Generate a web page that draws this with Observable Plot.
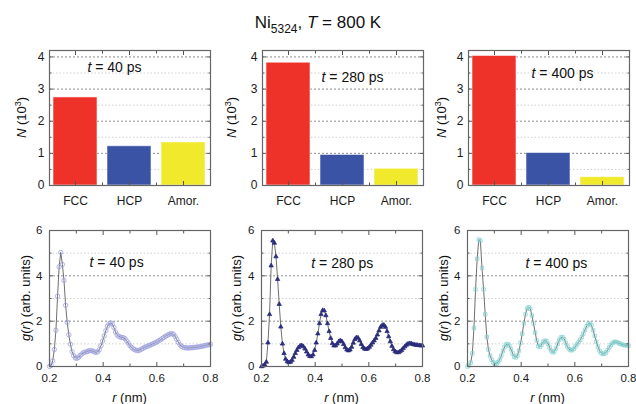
<!DOCTYPE html>
<html><head><meta charset="utf-8">
<script src="https://cdn.jsdelivr.net/npm/d3@7"></script>
<script src="https://cdn.jsdelivr.net/npm/@observablehq/plot@0.6"></script>
<style>
body{margin:0;background:#fff;}
#wrap{position:relative;width:636px;height:404px;overflow:hidden;font-family:Arial,"Liberation Sans",sans-serif;background:#fff;}
#title{position:absolute;top:13px;left:0;width:636px;text-align:center;font-size:17px;line-height:20px;color:#111;}
</style></head><body>
<div id="wrap"><div id="title">Ni<span style="font-size:12px;position:relative;top:5px;">5324</span>, <i>T</i> = 800 K</div></div>
<script>
// ---------- data ----------
const categories = ["FCC", "HCP", "Amor."];
const barColors = ["#ee3129", "#3a53a4", "#f1e92b"];
const times = ["40", "280", "400"];
const countsT40 = [2.74, 1.22, 1.34];
const countsT280 = [3.82, 0.95, 0.52];
const countsT400 = [4.03, 1.01, 0.26];
const yTicksN = [0, 1, 2, 3, 4];
const yMinorN = [0.5, 1.5, 2.5, 3.5];
const xTicksR = [0.2, 0.4, 0.6, 0.8];
const xMinorR = [0.3, 0.5, 0.7];
const yTicksG = [0, 2, 4, 6];
const yMinorG = [1, 3, 5];

const rValues = [
0.200,0.206,0.212,0.218,0.224,0.230,0.236,0.242,0.248,0.254,
0.260,0.266,0.272,0.278,0.284,0.290,0.296,0.302,0.308,0.314,
0.320,0.326,0.332,0.338,0.344,0.350,0.356,0.362,0.368,0.374,
0.380,0.386,0.392,0.398,0.404,0.410,0.416,0.422,0.428,0.434,
0.440,0.446,0.452,0.458,0.464,0.470,0.476,0.482,0.488,0.494,
0.500,0.506,0.512,0.518,0.524,0.530,0.536,0.542,0.548,0.554,
0.560,0.566,0.572,0.578,0.584,0.590,0.596,0.602,0.608,0.614,
0.620,0.626,0.632,0.638,0.644,0.650,0.656,0.662,0.668,0.674,
0.680,0.686,0.692,0.698,0.704,0.710,0.716,0.722,0.728,0.734,
0.740,0.746,0.752,0.758,0.764,0.770,0.776,0.782,0.788,0.794,
0.800];

const gT40 = [
0.0,0.05,0.25,0.75,1.6,3.1,4.4,5.03,4.5,3.8,
2.7,1.95,1.4,0.98,0.65,0.48,0.38,0.36,0.40,0.48,
0.55,0.60,0.63,0.65,0.68,0.70,0.70,0.68,0.64,0.62,
0.65,0.75,0.92,1.12,1.35,1.58,1.78,1.88,1.92,1.88,
1.72,1.52,1.40,1.33,1.30,1.28,1.27,1.22,1.12,1.02,
0.92,0.84,0.78,0.74,0.71,0.70,0.72,0.76,0.80,0.84,
0.87,0.90,0.93,0.96,0.99,1.02,1.06,1.10,1.14,1.18,
1.23,1.28,1.33,1.37,1.41,1.44,1.45,1.42,1.33,1.20,
1.07,0.96,0.89,0.85,0.83,0.82,0.82,0.82,0.83,0.83,
0.84,0.85,0.86,0.87,0.88,0.90,0.91,0.93,0.95,0.96,
0.98];

const gT280 = [
0.0,0.03,0.08,0.2,1.05,2.3,4.45,5.55,5.45,4.85,
3.85,2.75,1.75,1.0,0.58,0.33,0.22,0.18,0.20,0.28,
0.42,0.58,0.72,0.84,0.91,0.93,0.88,0.78,0.65,0.52,
0.45,0.44,0.52,0.72,1.05,1.45,1.9,2.3,2.48,2.46,
2.25,1.9,1.55,1.25,1.02,0.92,0.92,1.0,1.1,1.15,
1.1,0.98,0.84,0.74,0.70,0.74,0.86,1.04,1.2,1.28,
1.26,1.14,0.98,0.85,0.78,0.76,0.79,0.86,0.95,1.05,
1.14,1.25,1.40,1.58,1.74,1.82,1.83,1.74,1.55,1.32,
1.10,0.90,0.75,0.66,0.62,0.62,0.66,0.72,0.80,0.88,
0.95,1.0,1.02,1.01,0.98,0.96,0.95,0.94,0.93,0.92,
0.92];

const gT400 = [
0.0,0.05,0.17,0.58,1.7,3.4,4.75,5.6,5.55,4.35,
3.4,2.3,1.3,0.75,0.48,0.3,0.18,0.12,0.13,0.2,
0.3,0.48,0.68,0.86,0.97,0.99,0.92,0.76,0.58,0.44,
0.40,0.48,0.70,1.05,1.45,1.90,2.3,2.55,2.62,2.55,
2.25,1.9,1.5,1.15,0.9,0.86,0.95,1.08,1.14,1.12,
1.0,0.84,0.70,0.62,0.66,0.80,1.0,1.18,1.28,1.30,
1.22,1.05,0.88,0.77,0.72,0.72,0.78,0.88,0.98,1.08,
1.18,1.30,1.45,1.62,1.78,1.88,1.90,1.82,1.6,1.35,
1.1,0.88,0.70,0.60,0.55,0.56,0.62,0.72,0.84,0.95,
1.03,1.08,1.09,1.07,1.03,1.0,0.97,0.95,0.94,0.93,
0.92];

// ---------- helpers ----------
const FONT = 'Arial, "Liberation Sans", sans-serif';
const wrap = document.getElementById("wrap");
const AXC = "#555";
function place(svg, left, top) {
  svg.style.position = "absolute";
  svg.style.left = left + "px";
  svg.style.top = top + "px";
  wrap.appendChild(svg);
}
function rich(sel, parts) {
  let prevSup = false;
  parts.forEach(p => {
    const ts = sel.append("tspan").text(p.t);
    if (p.i) ts.attr("font-style", "italic");
    if (p.sup) { ts.attr("font-size", "9px").attr("dy", "-5"); }
    else if (prevSup) ts.attr("dy", "5");
    prevSup = !!p.sup;
  });
}
function fixAnnotation(svg, str) {
  d3.select(svg).selectAll("text").filter(function () { return this.textContent === str; })
    .each(function () {
      const s = d3.select(this);
      s.text("");
      rich(s, [{t: "t", i: true}, {t: str.slice(1)}]);
    });
}
function yLabel(svg, x, y, parts) {
  const t = d3.select(svg).append("text")
    .attr("transform", `translate(${x},${y}) rotate(-90)`)
    .attr("text-anchor", "middle").attr("dy", "0.35em")
    .attr("font-size", 13).attr("fill", "#111").attr("font-family", FONT);
  rich(t, parts);
}

// ---------- bar panels ----------
function barPanel(counts, time, left, labelGap, annDx, annY) {
  const rows = categories.map((c, i) => ({cat: c, n: counts[i], color: barColors[i]}));
  const W = 216, H = 170, ML = 50, MR = 5, MT = 10, MB = 25;
  const ann = "t = " + time + " ps";
  const svg = Plot.plot({
    width: W, height: H, marginLeft: ML, marginRight: MR, marginTop: MT, marginBottom: MB,
    style: {fontFamily: FONT, fontSize: "12px", color: "#1a1a1a", background: "transparent", overflow: "visible"},
    x: {domain: categories, paddingInner: 0.18, paddingOuter: 0.08, axis: null, label: null},
    y: {domain: [0, 4.2], axis: null, label: null},
    marks: [
      Plot.gridY(yMinorN, {stroke: "#cfcfcf", strokeOpacity: 1, strokeDasharray: "1.5,2"}),
      Plot.gridY(yTicksN.slice(1), {stroke: "#8c8c8c", strokeOpacity: 1, strokeDasharray: "2,2"}),
      Plot.barY(rows, {x: "cat", y: "n", fill: "color", stroke: "#ffffff", strokeOpacity: 0.55, strokeWidth: 1}),
      Plot.axisY(yTicksN, {anchor: "left", tickSize: -4, tickPadding: 9, label: null, stroke: AXC}),
      Plot.axisY(yMinorN, {anchor: "left", tickSize: -2.5, tickFormat: () => "", label: null, stroke: AXC}),
      Plot.axisY(yTicksN, {anchor: "right", tickSize: -4, tickFormat: () => "", label: null, stroke: AXC}),
      Plot.axisY(yMinorN, {anchor: "right", tickSize: -2.5, tickFormat: () => "", label: null, stroke: AXC}),
      Plot.axisX(categories, {anchor: "bottom", tickSize: -4, tickPadding: 15, label: null, stroke: AXC}),
      Plot.axisX(categories, {anchor: "top", tickSize: -4, tickFormat: () => "", label: null, stroke: AXC}),
      Plot.axisX(["FCC", "HCP"], {anchor: "bottom", tickSize: -2.5, dx: 27, tickFormat: () => "", label: null, stroke: AXC}),
      Plot.axisX(["FCC", "HCP"], {anchor: "top", tickSize: -2.5, dx: 27, tickFormat: () => "", label: null, stroke: AXC}),
      Plot.text([ann], {x: () => "HCP", y: () => annY, dx: annDx, text: d => d, fontSize: 14, fill: "#111"}),
      Plot.frame({stroke: "#666", strokeWidth: 1.2})
    ]
  });
  fixAnnotation(svg, ann);
  yLabel(svg, ML - labelGap, MT + (H - MT - MB) / 2, [{t: "N", i: true}, {t: " (10"}, {t: "3", sup: true}, {t: ")"}]);
  place(svg, left, 40);
}

// ---------- g(r) panels ----------
function grPanel(values, time, left, labelGap, symbol, fill, stroke, rad, annR, annG) {
  const rows = rValues.map((r, i) => ({r, g: values[i]}));
  const W = 216, H = 189, ML = 50, MR = 5, MT = 15, MB = 38;
  const ann = "t = " + time + " ps";
  const svg = Plot.plot({
    width: W, height: H, marginLeft: ML, marginRight: MR, marginTop: MT, marginBottom: MB,
    style: {fontFamily: FONT, fontSize: "11.5px", color: "#1a1a1a", background: "transparent", overflow: "visible"},
    x: {domain: [0.2, 0.8], axis: null, label: null},
    y: {domain: [0, 6], axis: null, label: null},
    marks: [
      Plot.gridY(yMinorG, {stroke: "#cfcfcf", strokeOpacity: 1, strokeDasharray: "1.5,2"}),
      Plot.gridY([2, 4], {stroke: "#8c8c8c", strokeOpacity: 1, strokeDasharray: "2,2"}),
      Plot.line(rows, {x: "r", y: "g", stroke: "#4a4a4a", strokeWidth: 0.8}),
      Plot.dot(rows, {x: "r", y: "g", symbol, r: rad, fill, stroke, strokeWidth: 0.8}),
      Plot.axisY(yTicksG, {anchor: "left", tickSize: -4, tickPadding: 11, label: null, stroke: AXC}),
      Plot.axisY(yMinorG, {anchor: "left", tickSize: -2.5, tickFormat: () => "", label: null, stroke: AXC}),
      Plot.axisY(yTicksG, {anchor: "right", tickSize: -4, tickFormat: () => "", label: null, stroke: AXC}),
      Plot.axisY(yMinorG, {anchor: "right", tickSize: -2.5, tickFormat: () => "", label: null, stroke: AXC}),
      Plot.axisX(xTicksR, {anchor: "bottom", tickSize: -4, tickPadding: 11, tickFormat: d => d.toFixed(1), label: null, stroke: AXC}),
      Plot.axisX(xMinorR, {anchor: "bottom", tickSize: -2.5, tickFormat: () => "", label: null, stroke: AXC}),
      Plot.axisX(xTicksR, {anchor: "top", tickSize: -4, tickFormat: () => "", label: null, stroke: AXC}),
      Plot.axisX(xMinorR, {anchor: "top", tickSize: -2.5, tickFormat: () => "", label: null, stroke: AXC}),
      Plot.text([ann], {x: () => annR, y: () => annG, text: d => d, fontSize: 14, fill: "#111"}),
      Plot.frame({stroke: "#666", strokeWidth: 1.2})
    ]
  });
  fixAnnotation(svg, ann);
  yLabel(svg, ML - labelGap, MT + (H - MT - MB) / 2,
    [{t: "g", i: true}, {t: "("}, {t: "r", i: true}, {t: ") (arb. units)"}]);
  const xl = d3.select(svg).append("text")
    .attr("x", ML + (W - ML - MR) / 2).attr("y", 187)
    .attr("text-anchor", "middle").attr("font-size", 13).attr("fill", "#111").attr("font-family", FONT);
  rich(xl, [{t: "r", i: true}, {t: " (nm)"}]);
  place(svg, left, 215);
}

barPanel(countsT40, times[0], -1, 28, -15, 3.66);
barPanel(countsT280, times[1], 212, 31, 10, 3.35);
barPanel(countsT400, times[2], 418, 27, 14, 3.47);

grPanel(gT40, times[0], -1, 24, "circle", "none", "#9ea2e0", 2.2, 0.45, 4.59);
grPanel(gT280, times[1], 211, 25, "triangle", "#2b2d7c", "#2b2d7c", 1.6, 0.501, 4.54);
grPanel(gT400, times[2], 417, 24, "square", "none", "#86d3d3", 1.9, 0.531, 4.54);
</script>
</body></html>
